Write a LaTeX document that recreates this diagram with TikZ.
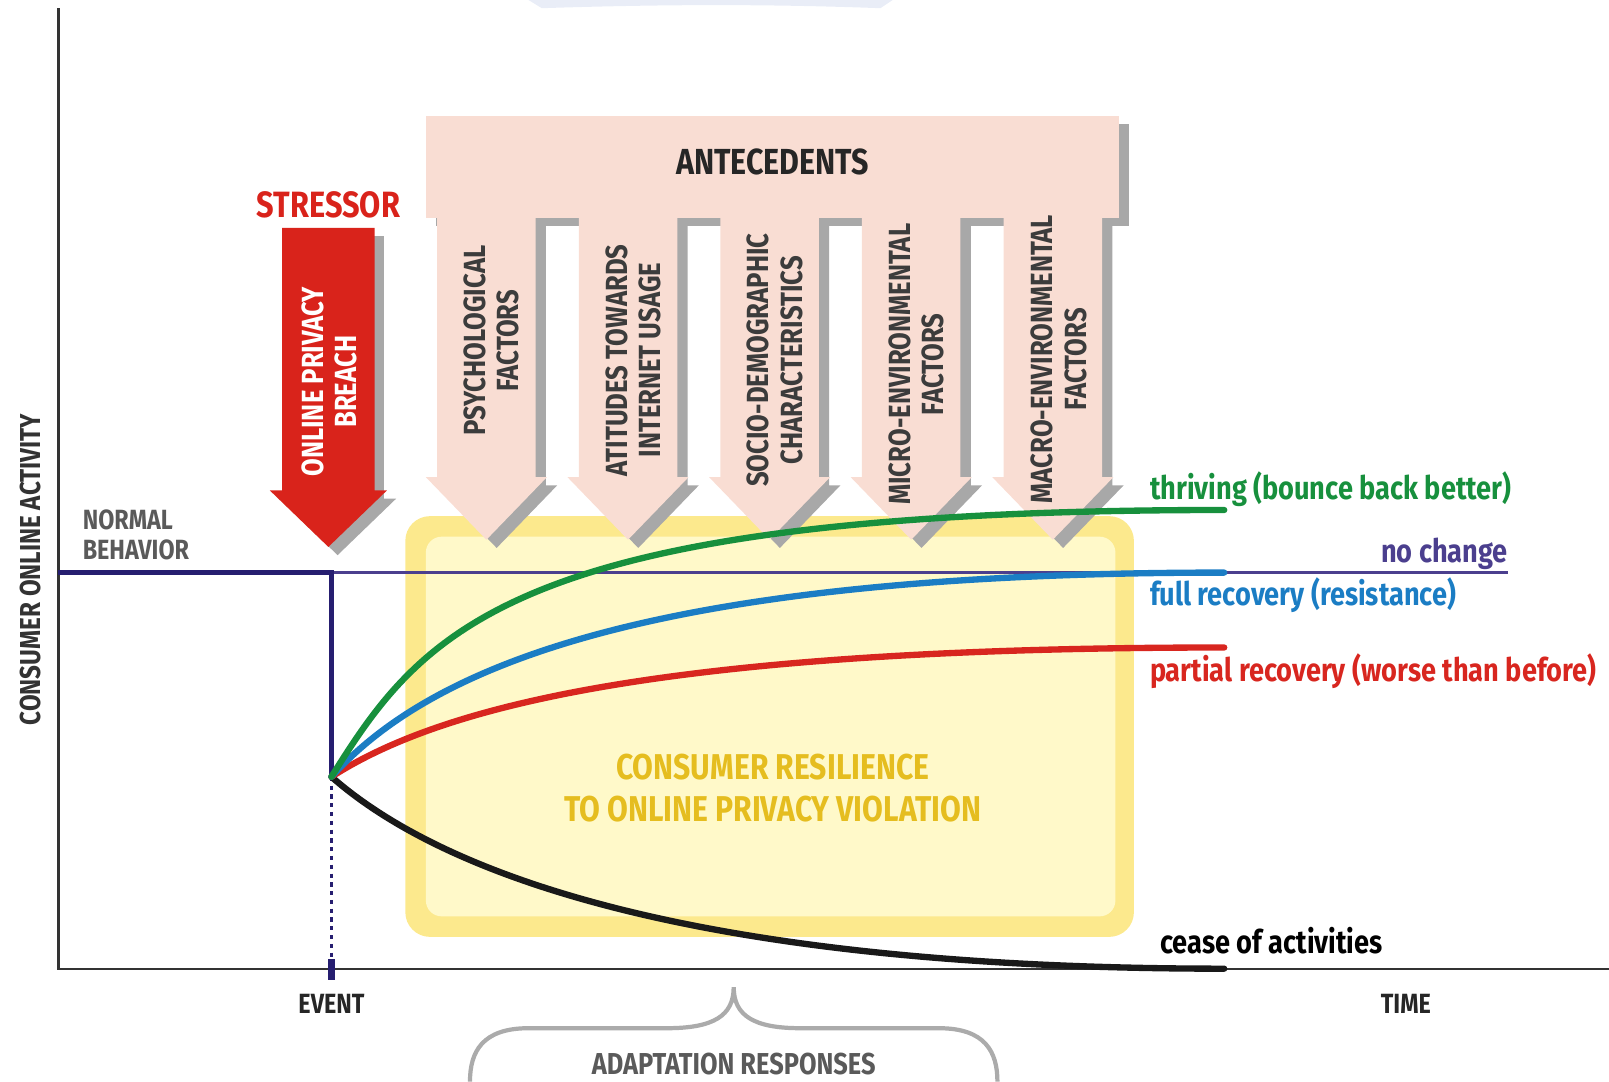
\documentclass[tikz,border=0pt]{standalone}
\usepackage{fontspec}
\setmainfont{Fira Sans}[FakeStretch=0.84]
\definecolor{navyline}{HTML}{261E70}
\definecolor{nochange}{HTML}{4B3F8E}
\definecolor{thrgreen}{HTML}{17903D}
\definecolor{fullblue}{HTML}{1B7DC4}
\definecolor{partred}{HTML}{D8261F}
\definecolor{stressred}{HTML}{D9231B}
\definecolor{antpink}{HTML}{F9DDD3}
\definecolor{shadegray}{HTML}{A8A8A8}
\definecolor{goldtxt}{HTML}{E5BD1F}
\definecolor{yellowout}{HTML}{FCE98D}
\definecolor{yellowin}{HTML}{FFF9C9}
\definecolor{factortxt}{HTML}{3C3C3C}
\definecolor{graytxt}{HTML}{5A5A5A}
\definecolor{bracegray}{HTML}{ABABAB}
\definecolor{topblue}{HTML}{E9EDF7}
\begin{document}
\begin{tikzpicture}[x=0.010261cm,y=-0.010261cm,every node/.style={inner sep=0pt},
  factor/.style={font=\fontsize{8.7}{9.5}\selectfont\bfseries,text=factortxt,align=center,rotate=90},
  curvelbl/.style={font=\fontsize{9.2}{11}\selectfont\bfseries,anchor=west},
  graylbl/.style={font=\fontsize{7.9}{8.4}\selectfont\bfseries,text=graytxt},
  curve/.style={line width=1.8pt,line cap=round}]
\useasboundingbox (0,0) rectangle (1568,1054);
\fill[topblue] (515,0) -- (528,8) .. controls (650,4) and (750,4) .. (858,8) -- (870,0) -- cycle;
% resilience box
\fill[yellowout,rounded corners=7pt] (395,503) rectangle (1105,913);
\fill[yellowin,rounded corners=4.5pt] (415,523) rectangle (1087,893);
\node[font=\fontsize{10.2}{11.8}\selectfont\bfseries,text=goldtxt,align=center] (resil) at (753,768) {CONSUMER RESILIENCE\\TO ONLINE PRIVACY VIOLATION};
% stressor arrow
\fill[shadegray,shift={(9,8)}] (275,222) -- (275,478) -- (263,478) -- (320,533) -- (377,478) -- (365,478) -- (365,222) -- cycle;
\fill[stressred] (275,222) -- (275,478) -- (263,478) -- (320,533) -- (377,478) -- (365,478) -- (365,222) -- cycle;
\node[font=\fontsize{10.4}{12}\selectfont\bfseries,text=stressred] (stressor) at (320,200) {STRESSOR};
\node[factor,text=white] (breach) at (321,372) {ONLINE PRIVACY\\BREACH};
% antecedents
\begin{scope}[shift={(10,8)}]
\fill[shadegray] (415,113) rectangle (1090,212);
\foreach \cx in {474,612,750,888,1026}
  \fill[shadegray] (\cx-48,205) -- (\cx-48,465) -- (\cx-59,465) -- (\cx,526) -- (\cx+59,465) -- (\cx+48,465) -- (\cx+48,205) -- cycle;
\end{scope}
\fill[antpink] (415,113) rectangle (1090,212);
\foreach \cx in {474,612,750,888,1026}
  \fill[antpink] (\cx-48,205) -- (\cx-48,465) -- (\cx-59,465) -- (\cx,526) -- (\cx+59,465) -- (\cx+48,465) -- (\cx+48,205) -- cycle;
\node[font=\fontsize{10.3}{11}\selectfont\bfseries,text=black!85] (antec) at (753,158) {ANTECEDENTS};
\node[factor] (psych) at (479,332) {PSYCHOLOGICAL\\FACTORS};
\node[factor] (attit) at (617,351) {ATITUDES TOWARDS\\INTERNET USAGE};
\node[factor] (socio) at (755,351) {SOCIO-DEMOGRAPHIC\\CHARACTERISTICS};
\node[factor] (micro) at (893,355) {MICRO-ENVIRONMENTAL\\FACTORS};
\node[factor] (macro) at (1032,350) {MACRO-ENVIRONMENTAL\\FACTORS};
% axes
\coordinate (ytop) at (57,8);
\coordinate (orig) at (57,944);
\coordinate (xend) at (1568,944);
\draw[line width=0.6pt,black!80] (ytop) -- (orig) -- (xend);
\node[font=\fontsize{8.2}{9}\selectfont\bfseries,text=black!80,rotate=90] (yax) at (30,555) {CONSUMER ONLINE ACTIVITY};
\node[graylbl,text=black!85] (time) at (1370,978) {TIME};
% normal behavior and event
\coordinate (nb) at (57,558);
\coordinate (ev) at (323,558);
\coordinate (o) at (323,757);
\coordinate (nc) at (1470,558);
\coordinate (evtick) at (323,935);
\coordinate (evbot) at (323,955);
\draw[nochange,line width=1pt] (ev) -- (nc);
\draw[navyline,line width=1.5pt] (nb) -- (ev) -- (o);
\draw[navyline,line width=1.1pt,dash pattern=on 1.2pt off 1.3pt] (o) -- (evtick);
\draw[navyline,line width=2pt] (evtick) -- (evbot);
\node[graylbl,align=left,anchor=west] (normal) at (80,521) {NORMAL\\BEHAVIOR};
\node[graylbl,text=black!85] (event) at (323,978) {EVENT};
% recovery curves
\coordinate (thr) at (1193,497);
\coordinate (full) at (1193,558);
\coordinate (part) at (1193,631);
\coordinate (cease) at (1193,944);
\draw[curve,black!90] (o) .. controls (440,860) and (700,944) .. (cease);
\draw[curve,partred] (o) .. controls (420,695) and (620,631) .. (part);
\draw[curve,fullblue] (o) .. controls (415,655) and (620,558) .. (full);
\draw[curve,thrgreen] (o) .. controls (413,613) and (500,497) .. (thr);
\node[curvelbl,text=thrgreen] (thrlbl) at (1120,477) {thriving (bounce back better)};
\node[curvelbl,text=nochange,anchor=east] (nclbl) at (1470,540) {no change};
\node[curvelbl,text=fullblue] (fulllbl) at (1120,580) {full recovery (resistance)};
\node[curvelbl,text=partred] (partlbl) at (1120,654) {partial recovery (worse than before)};
\node[curvelbl,text=black] (ceaselbl) at (1130,917) {cease of activities};
% adaptation brace
\draw[bracegray,line width=1.2pt] (458,1054) .. controls (458,1025) and (470,1002) .. (515,1002) -- (650,1002) .. controls (695,1002) and (715,990) .. (715,962) .. controls (715,990) and (735,1002) .. (780,1002) -- (915,1002) .. controls (960,1002) and (972,1025) .. (972,1054);
\node[graylbl,font=\fontsize{8.6}{9}\selectfont\bfseries] (adapt) at (715,1037) {ADAPTATION RESPONSES};
\end{tikzpicture}
\end{document}
